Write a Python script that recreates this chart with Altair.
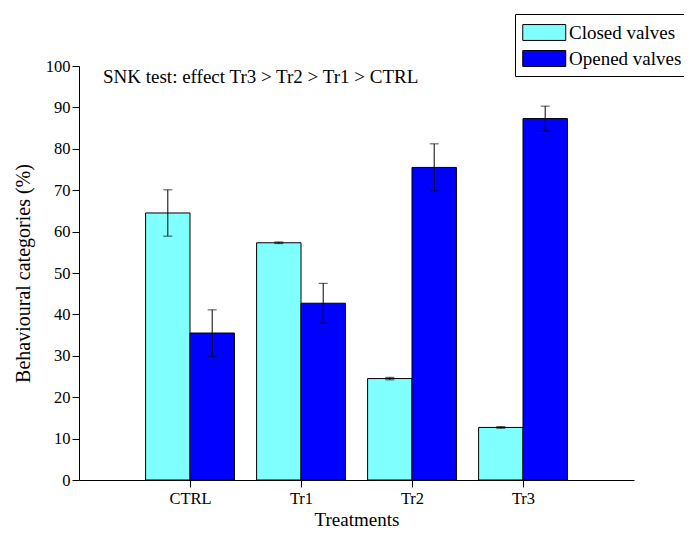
import altair as alt
import pandas as pd

treatments = ["CTRL", "Tr1", "Tr2", "Tr3"]
series = ["Closed valves", "Opened valves"]
closed_vals = [64.5, 57.3, 24.5, 12.7]
closed_err = [5.6, 0.2, 0.3, 0.2]
opened_vals = [35.5, 42.7, 75.5, 87.3]
opened_err = [5.6, 4.8, 5.7, 3.0]
colors = ["#80FFFF", "#0000FF"]
y_ticks = list(range(0, 101, 10))
note = "SNK test: effect Tr3 > Tr2 > Tr1 > CTRL"

rows = []
for i, t in enumerate(treatments):
    rows.append({"treatment": t, "idx": i + 1, "series": series[0], "value": closed_vals[i], "err": closed_err[i], "side": -1})
    rows.append({"treatment": t, "idx": i + 1, "series": series[1], "value": opened_vals[i], "err": opened_err[i], "side": 1})
df = pd.DataFrame(rows)

FONT = "Liberation Serif"
BW = 0.4

base = alt.Chart(df).transform_calculate(
    xa=f"datum.idx + (datum.side < 0 ? -{BW} : 0)",
    xb=f"datum.idx + (datum.side < 0 ? 0 : {BW})",
    xc=f"datum.idx + datum.side * {BW/2}",
    lo="datum.value - datum.err",
    hi="datum.value + datum.err",
)

label_expr = "datum.value == 1 ? 'CTRL' : datum.value == 2 ? 'Tr1' : datum.value == 3 ? 'Tr2' : datum.value == 4 ? 'Tr3' : ''"

xscale = alt.Scale(domain=[0, 5], nice=False, zero=False)
yscale = alt.Scale(domain=[0, 100], nice=False)

xaxis = alt.Axis(values=[1, 2, 3, 4], labelExpr=label_expr, title="Treatments",
                 grid=False, tickSize=7, labelPadding=3, titlePadding=4,
                 titleFontSize=19, labelFlush=False)
yaxis = alt.Axis(values=y_ticks, title="Behavioural categories (%)", grid=False,
                 tickSize=7, labelPadding=2, titlePadding=12, titleFontSize=20)

bars = base.mark_bar(stroke="black", strokeWidth=1).encode(
    x=alt.X("xa:Q", scale=xscale, axis=xaxis),
    x2="xb:Q",
    y=alt.Y("value:Q", scale=yscale, axis=yaxis),
    y2=alt.Y2(datum=0),
    fill=alt.Fill("series:N", scale=alt.Scale(domain=series, range=colors),
                  legend=alt.Legend(title=None)),
)

errs = base.mark_errorbar(ticks={"size": 9, "color": "black"}, color="black", thickness=1).encode(
    x=alt.X("xc:Q", scale=xscale, axis=xaxis),
    y=alt.Y("lo:Q", scale=yscale, axis=yaxis),
    y2="hi:Q",
)

ann = alt.Chart(pd.DataFrame({"t": [note]})).mark_text(
    font=FONT, fontSize=19, align="left", baseline="alphabetic", color="black"
).encode(x=alt.value(24), y=alt.value(17), text="t:N")

chart = alt.layer(bars, errs, ann).properties(
    width=555, height=414,
    autosize=alt.AutoSizeParams(type="none"),
    padding={"left": 71, "top": 58, "right": 50, "bottom": 50},
).configure_view(stroke=None).configure_axis(
    domainWidth=1, tickWidth=1, domainColor="black", tickColor="black",
    labelFont=FONT, labelFontSize=16.5, labelColor="black",
    titleFont=FONT, titleFontWeight="normal", titleColor="black",
).configure_legend(
    orient="none", legendX=436, legendY=-52,
    strokeColor="black", fillColor="white", padding=7,
    labelFont=FONT, labelFontSize=19, labelColor="black", labelOffset=24,
    labelLimit=200,
    symbolType="M-1,-0.74H3V0.74H-1Z", symbolSize=462,
    symbolStrokeColor="black", symbolStrokeWidth=1, symbolOpacity=1,
    rowPadding=4,
)

chart.save("out.html", embed_options={"renderer": "svg", "actions": False})
